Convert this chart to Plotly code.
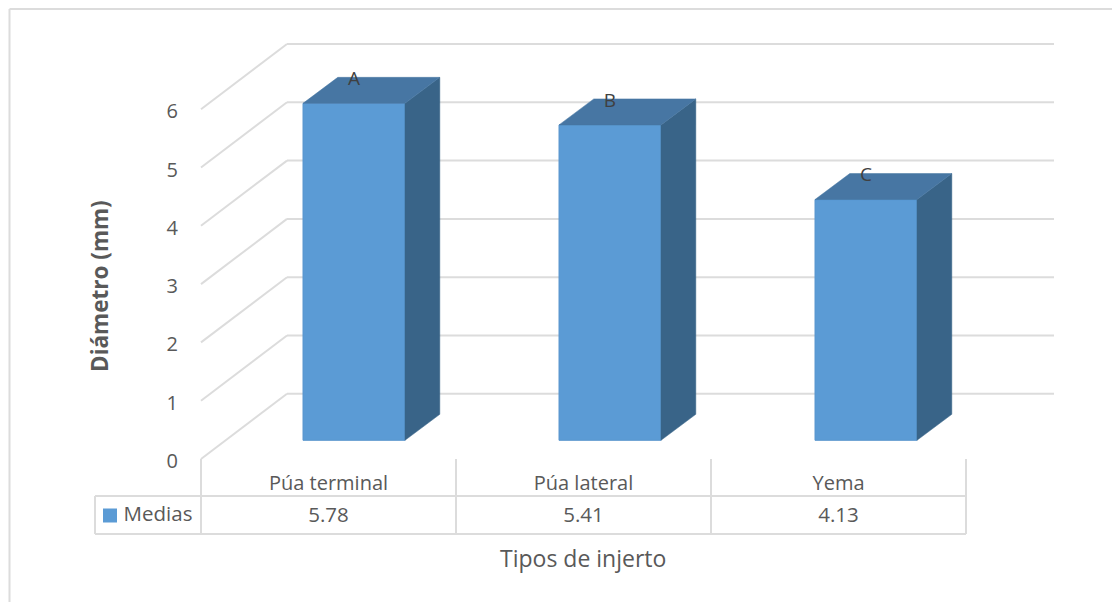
import plotly.graph_objects as go

# Graft types, mean stem diameter and significance letters
tipos = ["Púa terminal", "Púa lateral", "Yema"]
medias = [5.78, 5.41, 4.13]
letras = ["A", "B", "C"]
y_ticks = [0, 1, 2, 3, 4, 5, 6]

W, H = 1112, 602
PX_X = 255.0    # pixels per category
PX_Y = 58.3     # pixels per mm
X0, Y0 = 201.0, 459.0   # pixel position of the front-left floor corner


def ux(px):
    return (px - X0) / PX_X


def uy(py):
    return (Y0 - py) / PX_Y


# Oblique projection offsets, in axis units
WALL_DX, WALL_DY = 86 / PX_X, 65.2 / PX_Y
BAR_STEP = 256 / PX_X    # spacing of the bars on the floor
BAR_SHIFT = 0.6          # first bar centre within its category cell
BAR_W = 0.4
BAR_BASE = 18.7 / PX_Y
BAR_DX, BAR_DY = 34.8 / PX_X, 26 / PX_Y
TICK_NUDGE = 2 / PX_Y    # value labels sit slightly under their tick level

GRID = "#DCDCDC"
TEXT = "#595959"
FONT = "Open Sans"

fig = go.Figure()
centres = [i * BAR_STEP + BAR_SHIFT for i in range(len(medias))]

# Side faces first, then top faces, then the front faces
for c, v in zip(centres, medias):
    right = c + BAR_W / 2
    left = c - BAR_W / 2
    top = BAR_BASE + v
    fig.add_trace(go.Scatter(
        x=[right, right + BAR_DX, right + BAR_DX, right, right],
        y=[BAR_BASE, BAR_BASE + BAR_DY, top + BAR_DY, top, BAR_BASE],
        mode="lines", fill="toself", fillcolor="#396488",
        line=dict(color="#396488", width=0.5), hoverinfo="skip", showlegend=False))
    fig.add_trace(go.Scatter(
        x=[left, left + BAR_DX, right + BAR_DX, right, left],
        y=[top, top + BAR_DY, top + BAR_DY, top, top],
        mode="lines", fill="toself", fillcolor="#4776A3",
        line=dict(color="#4776A3", width=0.5), hoverinfo="skip", showlegend=False))

fig.add_trace(go.Bar(
    x=centres, y=medias, base=BAR_BASE,
    width=BAR_W, marker=dict(color="#5B9BD5", line=dict(color="#5A96CE", width=1)),
    name="Medias", showlegend=False))

# Significance letters above each bar
fig.add_trace(go.Scatter(
    x=centres,
    y=[v + BAR_BASE + 23 / PX_Y for v in medias],
    mode="text", text=letras, textposition="middle center",
    textfont=dict(family=FONT, size=19, color="#404040"),
    hoverinfo="skip", showlegend=False))

# Data table: value row and series key
fig.add_trace(go.Scatter(
    x=[i + 0.5 for i in range(len(medias))], y=[uy(517)] * len(medias),
    mode="text", text=[f"{v:.2f}" for v in medias], textposition="middle center",
    textfont=dict(family=FONT, size=20.5, color=TEXT),
    hoverinfo="skip", showlegend=False))
fig.add_trace(go.Scatter(
    x=[ux(110)], y=[uy(515.5)], mode="markers",
    marker=dict(symbol="square", size=14, color="#5B9BD5"),
    hoverinfo="skip", showlegend=False))
fig.add_trace(go.Scatter(
    x=[ux(158)], y=[uy(515.5)], mode="text", text=["Medias"],
    textposition="middle center",
    textfont=dict(family=FONT, size=20.5, color=TEXT),
    hoverinfo="skip", showlegend=False))


def seg(xs, ys, width=2, color=GRID):
    return dict(type="line", xref="x", yref="y", x0=xs[0], x1=xs[1], y0=ys[0], y1=ys[1],
                line=dict(color=color, width=width), layer="below")


shapes = []
# Back wall and side wall gridlines
for t in y_ticks:
    shapes.append(seg([WALL_DX, ux(1054)], [t + WALL_DY, t + WALL_DY]))
    shapes.append(seg([0, WALL_DX], [t, t + WALL_DY]))

# Data table rules
row_mid, row_bot = uy(496), uy(534)
for c in range(len(tipos) + 1):
    shapes.append(seg([c, c], [0, row_bot]))
shapes.append(seg([ux(95), len(tipos)], [row_mid, row_mid]))
shapes.append(seg([ux(95), len(tipos)], [row_bot, row_bot]))
shapes.append(seg([ux(95), ux(95)], [row_mid, row_bot]))

# Chart frame: top and left edges only
shapes.append(dict(type="line", xref="paper", yref="paper", x0=9.5 / W, x1=1, y0=1 - 9 / H, y1=1 - 9 / H,
                   line=dict(color=GRID, width=2), layer="below"))
shapes.append(dict(type="line", xref="paper", yref="paper", x0=9.5 / W, x1=9.5 / W, y0=0, y1=1 - 9 / H,
                   line=dict(color=GRID, width=2), layer="below"))

fig.update_layout(
    width=W, height=H, margin=dict(l=0, r=0, t=0, b=0, pad=0),
    paper_bgcolor="white", plot_bgcolor="white", showlegend=False,
    shapes=shapes,
    xaxis=dict(range=[ux(0), ux(W)], showgrid=False, zeroline=False, showline=False,
               tickmode="array", tickvals=[i + 0.5 for i in range(len(tipos))], ticktext=tipos,
               ticks="", anchor="free", position=(H - 469) / H,
               tickfont=dict(family=FONT, size=20, color=TEXT)),
    yaxis=dict(range=[uy(H), uy(0)], showgrid=False, zeroline=False, showline=False,
               tickmode="array", tickvals=[t - TICK_NUDGE for t in y_ticks],
               ticktext=[str(t) for t in y_ticks], ticks="",
               anchor="free", position=178 / W,
               tickfont=dict(family=FONT, size=20, color=TEXT)),
    annotations=[
        dict(text="Tipos de injerto", x=583 / W, y=1 - 558 / H, xref="paper", yref="paper",
             xanchor="center", yanchor="middle",
             showarrow=False, font=dict(family=FONT, size=23, color=TEXT)),
        dict(text="<b>Diámetro (mm)</b>", x=99 / W, y=1 - 286 / H, xref="paper", yref="paper",
             xanchor="center", yanchor="middle",
             textangle=-90, showarrow=False, font=dict(family=FONT, size=22.5, color=TEXT)),
    ],
)

fig.write_html("out.html")
